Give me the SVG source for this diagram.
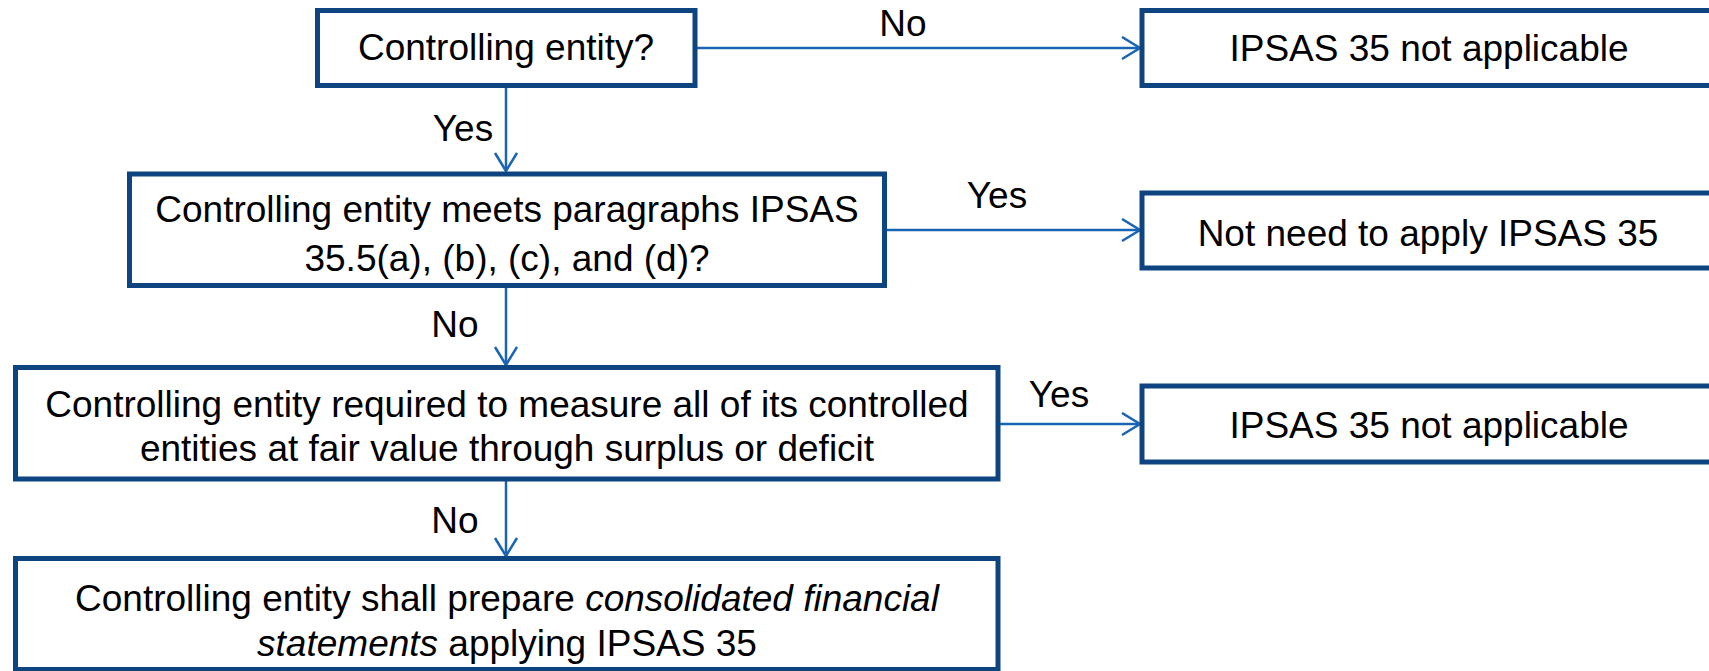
<svg xmlns="http://www.w3.org/2000/svg" width="1709" height="671" viewBox="0 0 1709 671">
<style>
.box{fill:#ffffff;stroke:#0E4580;stroke-width:5}
.t{font-family:"Liberation Sans",Arial,sans-serif;font-size:37px;fill:#000000;text-anchor:middle}
.lbl{font-family:"Liberation Sans",Arial,sans-serif;font-size:37px;fill:#000000;text-anchor:middle}
.c{fill:none;stroke:#1A64B4;stroke-width:2.5;marker-end:url(#ah)}
</style>
<defs>
<marker id="ah" markerUnits="userSpaceOnUse" markerWidth="24" markerHeight="26" refX="20" refY="12" orient="auto">
<path d="M2,1 L20,12 L2,23" fill="none" stroke="#1A64B4" stroke-width="2.5"/>
</marker>
</defs>
<rect width="1709" height="671" fill="#ffffff"/>
<g id="connectors">
<path class="c" d="M695,48 L1140,48"/>
<path class="c" d="M506,87 L506,171"/>
<path class="c" d="M885,230 L1140,230"/>
<path class="c" d="M506,288 L506,365"/>
<path class="c" d="M998,424 L1140,424"/>
<path class="c" d="M506,480 L506,556"/>
<text class="lbl" x="903" y="36">No</text>
<text class="lbl" x="463" y="141">Yes</text>
<text class="lbl" x="997" y="208">Yes</text>
<text class="lbl" x="455" y="337">No</text>
<text class="lbl" x="1059" y="407">Yes</text>
<text class="lbl" x="455" y="533">No</text>
</g>
<g id="n1">
<rect class="box" x="317.5" y="10.5" width="377.5" height="75"/>
<text class="t" x="506" y="60">Controlling entity?</text>
</g>
<g id="n2">
<rect class="box" x="1142" y="10.5" width="580" height="75"/>
<text class="t" x="1429" y="61">IPSAS 35 not applicable</text>
</g>
<g id="n3">
<rect class="box" x="129.5" y="174" width="755" height="111.5"/>
<text class="t" x="507" y="222">Controlling entity meets paragraphs IPSAS</text>
<text class="t" x="507" y="271">35.5(a), (b), (c), and (d)?</text>
</g>
<g id="n4">
<rect class="box" x="1142" y="193" width="580" height="75"/>
<text class="t" x="1428" y="246">Not need to apply IPSAS 35</text>
</g>
<g id="n5">
<rect class="box" x="15.5" y="367.5" width="982.5" height="111.5"/>
<text class="t" x="507" y="417">Controlling entity required to measure all of its controlled</text>
<text class="t" x="507" y="461">entities at fair value through surplus or deficit</text>
</g>
<g id="n6">
<rect class="box" x="1142" y="386" width="580" height="76"/>
<text class="t" x="1429" y="438">IPSAS 35 not applicable</text>
</g>
<g id="n7">
<rect class="box" x="15.5" y="558.5" width="982.5" height="111"/>
<text class="t" x="507" y="611">Controlling entity shall prepare <tspan font-style="italic">consolidated financial</tspan></text>
<text class="t" x="507" y="656"><tspan font-style="italic">statements</tspan> applying IPSAS 35</text>
</g>
</svg>
